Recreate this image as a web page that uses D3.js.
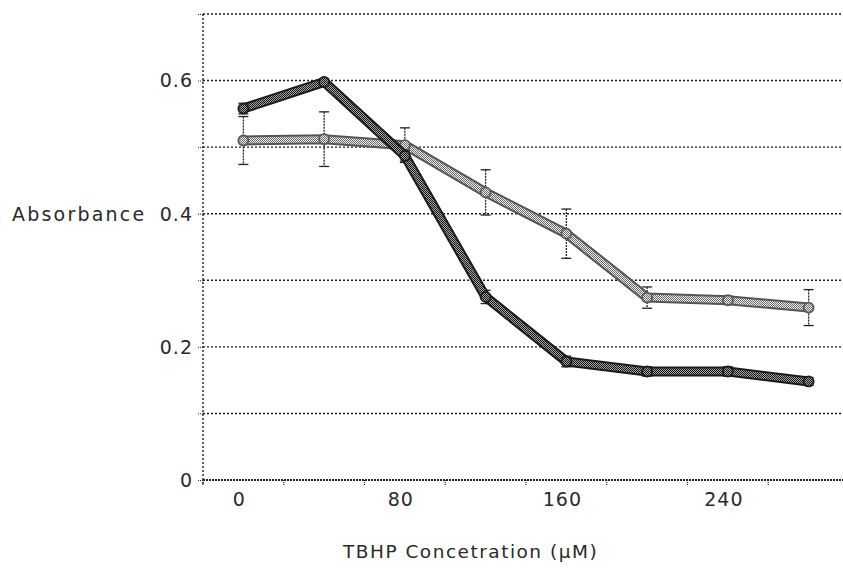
<!DOCTYPE html>
<html>
<head>
<meta charset="utf-8">
<script src="https://cdn.jsdelivr.net/npm/d3@7"></script>
<style>
  html, body { margin: 0; padding: 0; background: #fff; }
  svg { display: block; }
  text { font-family: "DejaVu Sans", Verdana, sans-serif; fill: #2a2a2a; }
</style>
</head>
<body>
<svg id="chart" width="843" height="568"></svg>
<script>
// ---- data ----
const categories = [0, 40, 80, 120, 160, 200, 240, 280];
const xTickLabels = ["0", "80", "160", "240"];
const yTicks = [0, 0.1, 0.2, 0.3, 0.4, 0.5, 0.6, 0.7];
const yTickLabels = [0, 0.2, 0.4, 0.6];
const seriesA = [0.558, 0.598, 0.487, 0.275, 0.178, 0.163, 0.163, 0.148];
const errA    = [0.008, 0.005, 0.008, 0.010, 0.008, 0.007, 0.007, 0.006];
const seriesB = [0.510, 0.512, 0.503, 0.432, 0.370, 0.274, 0.270, 0.259];
const errB    = [0.036, 0.041, 0.026, 0.034, 0.037, 0.016, 0.006, 0.027];
const yTitle = "Absorbance";
const xTitle = "TBHP Concetration (µM)";

(function () {
// ---- layout ----
const svg = d3.select("#chart");
const pLeft = 203, pRight = 849, pTop = 14, pBottom = 480;

const x = d3.scaleBand().domain(categories).range([pLeft, pRight]).paddingInner(0).paddingOuter(0);
const y = d3.scaleLinear().domain([0, 0.7]).range([pBottom, pTop]);
const cx = d => x(d) + x.bandwidth() / 2;

// patterns
const defs = svg.append("defs");
function checker(id, fg, bg) {
  const p = defs.append("pattern").attr("id", id).attr("width", 2).attr("height", 2)
    .attr("patternUnits", "userSpaceOnUse");
  p.append("rect").attr("width", 2).attr("height", 2).attr("fill", bg);
  p.append("rect").attr("x", 0).attr("y", 0).attr("width", 1).attr("height", 1).attr("fill", fg);
  p.append("rect").attr("x", 1).attr("y", 1).attr("width", 1).attr("height", 1).attr("fill", fg);
}
checker("chkA", "#111", "#aaa");
checker("chkB", "#666", "#f2f2f2");

const dotted = "2,2";

// gridlines
svg.append("g").selectAll("line").data(yTicks.filter(d => d > 0)).join("line")
  .attr("x1", pLeft).attr("x2", 843)
  .attr("y1", d => y(d)).attr("y2", d => y(d))
  .attr("stroke", "#1a1a1a").attr("stroke-width", 1.4).attr("stroke-dasharray", dotted);

// y axis
const yAxis = d3.axisLeft(y).tickValues(yTicks).tickSize(5).tickFormat("");
const gy = svg.append("g").attr("transform", `translate(${pLeft},0)`).call(yAxis);
gy.select(".domain").remove();
gy.selectAll(".tick line").attr("stroke", "#222").attr("stroke-dasharray", "1,1");
svg.append("line").attr("x1", pLeft).attr("x2", pLeft).attr("y1", pTop).attr("y2", pBottom + 6)
  .attr("stroke", "#222").attr("stroke-width", 1.4).attr("stroke-dasharray", dotted);

// x axis line
svg.append("line").attr("x1", pLeft).attr("x2", 843).attr("y1", pBottom).attr("y2", pBottom)
  .attr("stroke", "#222").attr("stroke-width", 2).attr("stroke-dasharray", "2,1");
// x ticks at band boundaries
const bounds = categories.map(c => x(c));
svg.append("g").selectAll("line").data(bounds).join("line")
  .attr("x1", d => d).attr("x2", d => d).attr("y1", pBottom).attr("y2", pBottom + 6)
  .attr("stroke", "#222").attr("stroke-width", 1.2).attr("stroke-dasharray", "1,1");

// y labels
svg.append("g").selectAll("text").data(yTickLabels).join("text")
  .attr("x", 193).attr("y", d => y(d)).attr("dy", "0.36em")
  .attr("text-anchor", "end").attr("font-size", 19).attr("letter-spacing", 1)
  .text(d => d === 0 ? "0" : d.toFixed(1));

// x labels
svg.append("g").selectAll("text").data(xTickLabels).join("text")
  .attr("x", d => cx(+d) - 4).attr("y", 506)
  .attr("text-anchor", "middle").attr("font-size", 19).attr("letter-spacing", 1)
  .text(d => d);

// titles
svg.append("text").attr("x", 12).attr("y", y(0.4)).attr("dy", "0.36em")
  .attr("font-size", 19).attr("letter-spacing", 2.2).text(yTitle);
svg.append("text").attr("x", 343).attr("y", 558)
  .attr("font-size", 18.5).attr("letter-spacing", 1.5).text(xTitle);

// error bars
function errBars(vals, errs, color) {
  const g = svg.append("g");
  const d = vals.map((v, i) => ({c: categories[i], v, e: errs[i]}));
  g.selectAll("line.v").data(d).join("line").attr("class", "v")
    .attr("x1", p => cx(p.c)).attr("x2", p => cx(p.c))
    .attr("y1", p => y(p.v + p.e)).attr("y2", p => y(p.v - p.e))
    .attr("stroke", color).attr("stroke-width", 1.3).attr("stroke-dasharray", "2,1");
  ["t", "b"].forEach(k => {
    g.selectAll("line." + k).data(d).join("line").attr("class", k)
      .attr("x1", p => cx(p.c) - 5).attr("x2", p => cx(p.c) + 5)
      .attr("y1", p => y(k === "t" ? p.v + p.e : p.v - p.e))
      .attr("y2", p => y(k === "t" ? p.v + p.e : p.v - p.e))
      .attr("stroke", color).attr("stroke-width", 1.3);
  });
}

const line = d3.line().x((v, i) => cx(categories[i])).y(v => y(v));

function drawSeries(vals, outer, inner) {
  const g = svg.append("g");
  g.append("path").datum(vals).attr("d", line).attr("fill", "none")
    .attr("stroke", outer).attr("stroke-width", 10).attr("stroke-linejoin", "round");
  g.append("path").datum(vals).attr("d", line).attr("fill", "none")
    .attr("stroke", inner).attr("stroke-width", 6).attr("stroke-linejoin", "round");
  g.selectAll("circle").data(vals).join("circle")
    .attr("cx", (v, i) => cx(categories[i])).attr("cy", v => y(v)).attr("r", 5)
    .attr("fill", inner).attr("stroke", outer).attr("stroke-width", 1.8);
}

errBars(seriesB, errB, "#222");
drawSeries(seriesB, "#555", "url(#chkB)");
errBars(seriesA, errA, "#222");
drawSeries(seriesA, "#1a1a1a", "url(#chkA)");
})();
</script>
</body>
</html>
